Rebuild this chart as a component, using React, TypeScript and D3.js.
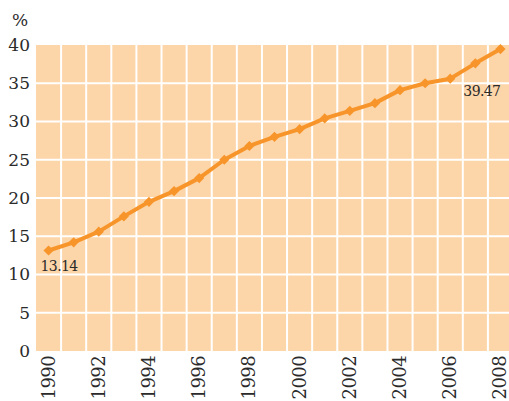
import React from "react";
import * as d3 from "d3";

const years: number[] = [1990, 1991, 1992, 1993, 1994, 1995, 1996, 1997, 1998, 1999, 2000, 2001, 2002, 2003, 2004, 2005, 2006, 2007, 2008];
const values: number[] = [13.14, 14.2, 15.6, 17.6, 19.5, 20.9, 22.6, 25.0, 26.8, 28.0, 29.0, 30.4, 31.4, 32.4, 34.1, 35.0, 35.6, 37.6, 39.47];
const yTicks: number[] = [0, 5, 10, 15, 20, 25, 30, 35, 40];
const xTickYears: number[] = [1990, 1992, 1994, 1996, 1998, 2000, 2002, 2004, 2006, 2008];
const unitLabel = "%";

const W = 509;
const H = 401;
const plotLeft = 36;
const plotRight = 513;
const plotTop = 45;
const plotBottom = 351;

const font = "'DejaVu Serif', serif";
const bg = "#FCD5A8";
const lineColor = "#F7952B";
const textColor = "#2a2a2a";
const textStyle = (size: number): React.CSSProperties => ({ fontFamily: font, fontSize: size + "px" });

export default function App() {
  const x = d3.scaleBand<number>().domain(years).range([plotLeft, plotRight]).padding(0);
  const y = d3.scaleLinear().domain([0, 40]).range([plotBottom, plotTop]);
  const bw = x.bandwidth();
  const cx = (yr: number) => (x(yr) as number) + bw / 2;

  const line = d3
    .line<number>()
    .x((_, i) => cx(years[i]))
    .y((d) => y(d));

  const diamond = d3.symbol().type(d3.symbolSquare).size(52)() as string;

  const first = values[0];
  const last = values[values.length - 1];

  return (
    <svg width={W} height={H} style={{ position: "absolute", left: 0, top: 0 }}>
      <rect x={plotLeft} y={plotTop} width={plotRight - plotLeft} height={plotBottom - plotTop} fill={bg} />
      {years.slice(1).map((yr) => (
        <line key={"v" + yr} x1={x(yr)} x2={x(yr)} y1={plotTop} y2={plotBottom} stroke="#fff" strokeWidth={2} />
      ))}
      {yTicks.slice(1, -1).map((t) => (
        <line key={"h" + t} x1={plotLeft} x2={plotRight} y1={y(t)} y2={y(t)} stroke="#fff" strokeWidth={2} />
      ))}
      {yTicks.map((t) => (
        <text key={"yt" + t} x={30} y={y(t)} dy="0.35em" textAnchor="end" style={textStyle(17)} fill={textColor}>
          {t}
        </text>
      ))}
      <text x={20} y={26} textAnchor="middle" style={textStyle(17)} fill={textColor}>
        {unitLabel}
      </text>
      {xTickYears.map((yr) => (
        <text
          key={"xt" + yr}
          transform={`translate(${cx(yr) + 6},356) rotate(-90)`}
          textAnchor="end"
          style={{ ...textStyle(18), letterSpacing: "-0.6px" }}
          fill={textColor}
        >
          {yr}
        </text>
      ))}
      <path d={line(values) as string} fill="none" stroke={lineColor} strokeWidth={4} strokeLinejoin="round" />
      {values.map((v, i) => (
        <path
          key={"m" + i}
          d={diamond}
          transform={`translate(${cx(years[i])},${y(v)}) rotate(45)`}
          fill={lineColor}
        />
      ))}
      <text x={cx(years[0]) - 8} y={y(first) + 21} style={{ ...textStyle(14), letterSpacing: "-0.6px" }} fill={textColor}>
        {first.toFixed(2)}
      </text>
      <text x={cx(years[years.length - 1])} y={y(last) + 47} textAnchor="end" style={{ ...textStyle(14), letterSpacing: "-0.6px" }} fill={textColor}>
        {last.toFixed(2)}
      </text>
    </svg>
  );
}
